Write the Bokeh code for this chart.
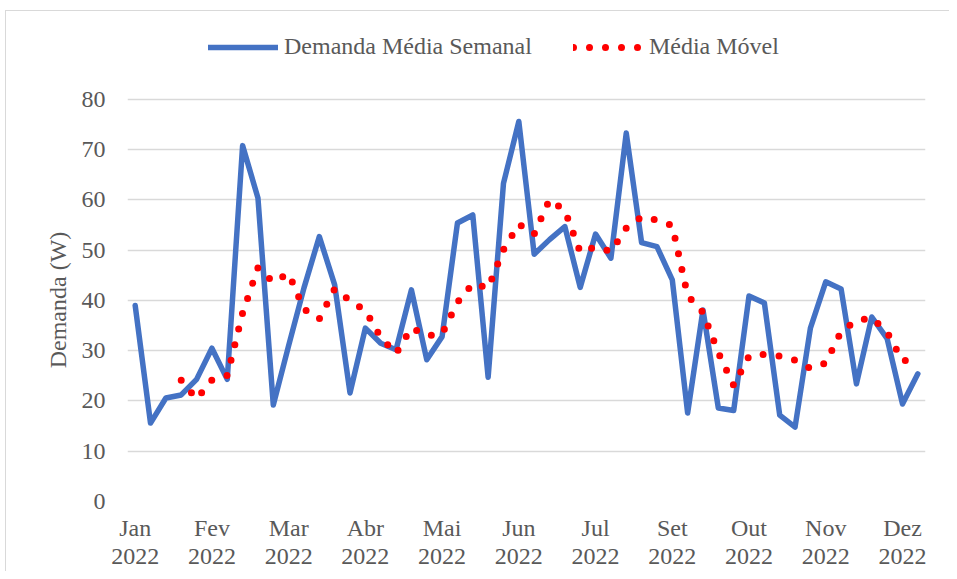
import math
import pandas as pd
from bokeh.plotting import figure
from bokeh.models import (ColumnDataSource, FixedTicker, Legend, LegendItem, Range1d)
from bokeh.embed import file_html
from bokeh.resources import INLINE

# ---- data ----
month_labels = ["Jan\n2022", "Fev\n2022", "Mar\n2022", "Abr\n2022", "Mai\n2022", "Jun\n2022",
                "Jul\n2022", "Set\n2022", "Out\n2022", "Nov\n2022", "Dez\n2022"]
label_positions = [0, 5, 10, 15, 20, 25, 30, 35, 40, 45, 50]
y_ticks = [0, 10, 20, 30, 40, 50, 60, 70, 80]
demanda_semanal = [39.0, 15.6, 20.6, 21.2, 24.3, 30.5, 24.3, 70.8, 60.4, 19.2,
                   31.0, 42.5, 52.7, 43.1, 21.6, 34.5, 31.5, 30.2, 42.1, 28.2,
                   32.8, 55.4, 57.0, 24.7, 63.3, 75.6, 49.2, 52.1, 54.7, 42.6,
                   53.2, 48.4, 73.3, 51.5, 50.7, 44.1, 17.6, 38.1, 18.6, 18.1,
                   40.9, 39.5, 17.2, 14.8, 34.5, 43.7, 42.3, 23.4, 36.7, 32.4,
                   19.4, 25.4]
periodo_media_movel = 4
weeks = list(range(len(demanda_semanal)))

media_movel = pd.Series(demanda_semanal).rolling(periodo_media_movel).mean()
src = ColumnDataSource(dict(x=weeks, y=demanda_semanal))
mm_x = [w for w, v in zip(weeks, media_movel) if not math.isnan(v)]
mm_y = [v for v in media_movel if not math.isnan(v)]
src_mm = ColumnDataSource(dict(x=mm_x, y=mm_y))

FONT = "Liberation Serif"
TXT = "#595959"

# frame extends above 80 to hold the legend (gridlines only up to 80)
p = figure(width=944, height=561, output_backend="svg", toolbar_location=None,
           x_range=Range1d(-0.5, len(weeks) - 0.5), y_range=Range1d(0, 94.5),
           min_border_left=121, min_border_right=25, min_border_top=15, min_border_bottom=71)
p.outline_line_color = None
p.background_fill_color = "white"
p.border_fill_color = "white"
p.styles = {"margin-left": "5px", "margin-top": "10px",
            "border-top": "1px solid #D9D9D9", "border-left": "1px solid #D9D9D9"}

blue = p.line("x", "y", source=src, line_color="#4472C4", line_width=5.5,
              line_join="round", line_cap="round")
red = p.line("x", "y", source=src_mm, line_color="#FF0000", line_width=7,
             line_dash="0 16", line_cap="round", line_join="round")

# axes
p.xaxis.ticker = FixedTicker(ticks=label_positions)
p.xaxis.major_label_overrides = {pos: lab for pos, lab in zip(label_positions, month_labels)}
p.yaxis.ticker = FixedTicker(ticks=y_ticks)
for ax in (p.xaxis[0], p.yaxis[0]):
    ax.axis_line_color = None
    ax.major_tick_line_color = None
    ax.minor_tick_line_color = None
    ax.major_tick_out = 0
    ax.major_tick_in = 0
    ax.major_label_text_font = FONT
    ax.major_label_text_font_size = "24px"
    ax.major_label_text_color = TXT
p.xaxis.major_label_standoff = 13
p.xaxis[0].major_label_text_line_height = 1.1
p.yaxis.major_label_standoff = 22

# y axis title (trailing no-break spaces shift it down to centre on the 0-80 area)
p.yaxis.axis_label = "Demanda (W)" + "\u00a0" * 12
p.yaxis.axis_label_text_font = FONT
p.yaxis.axis_label_text_font_size = "24px"
p.yaxis.axis_label_text_font_style = "normal"
p.yaxis.axis_label_text_color = TXT
p.yaxis.axis_label_standoff = 8

p.xgrid.grid_line_color = None
p.ygrid.grid_line_color = "#D9D9D9"
p.ygrid.grid_line_width = 1.3

legend = Legend(items=[LegendItem(label="Demanda Média Semanal", renderers=[blue]),
                       LegendItem(label="Média Móvel", renderers=[red])],
                orientation="horizontal", location=(81, 441),
                glyph_width=70, glyph_height=24, label_standoff=6, spacing=41,
                padding=0, margin=0, border_line_color=None, background_fill_alpha=0,
                label_text_font=FONT, label_text_font_size="24px", label_text_color=TXT)
p.add_layout(legend, "center")

open("out.html", "w").write(file_html(p, INLINE))
